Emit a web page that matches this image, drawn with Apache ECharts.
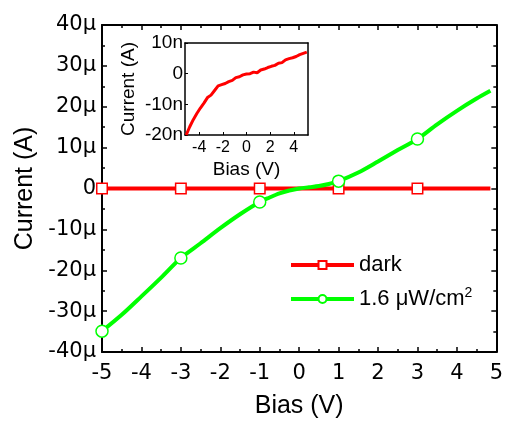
<!DOCTYPE html>
<html><head><meta charset="utf-8">
<script src="https://cdn.jsdelivr.net/npm/echarts@6/dist/echarts.min.js"></script>
<style>html,body{margin:0;padding:0;background:#fff}#c{width:506px;height:424px}</style>
</head><body><div id="c"></div>
<script>
// Main plot: dark current (µA)
const biasDark = [-5, -3, -1, 1, 3, 4.85];
const currentDark = [0, 0, 0, 0, 0, 0];
const darkMarkerBias = [-5, -3, -1, 1, 3];
// Main plot: illuminated 1.6 µW/cm² (µA)
const biasLight = [-5, -4.5, -4, -3.5, -3, -2.5, -2, -1.5, -1, -0.75, -0.5, -0.25, 0, 0.25, 0.5, 0.75, 1, 1.5, 2, 2.5, 3, 3.5, 4, 4.5, 4.85];
const currentLight = [-34.9, -30.9, -26.4, -21.8, -17.0, -13.4, -9.7, -6.3, -3.3, -2.2, -1.2, -0.5, 0, 0.3, 0.6, 1.1, 1.8, 3.9, 6.6, 9.4, 12.1, 15.7, 19.0, 22.0, 23.9];
const lightMarkerBias = [-5, -3, -1, 1, 3];
// Inset: dark current (nA)
const insetBias = [-5.1, -4.8, -4.5, -4.2, -3.9, -3.6, -3.3, -3.0, -2.7, -2.4, -2.1, -1.8, -1.5, -1.2, -0.9, -0.6, -0.3, 0, 0.3, 0.6, 0.9, 1.2, 1.5, 1.8, 2.1, 2.4, 2.7, 3.0, 3.3, 3.6, 3.9, 4.2, 4.5, 4.8, 5.1];
const insetCurrent = [-20, -17.3, -15, -13, -11.2, -9.6, -7.8, -7.0, -5.5, -4.0, -3.6, -3.2, -2.6, -2.2, -1.3, -1.0, -0.4, -0.1, 0, 0.5, 0.3, 1.2, 1.5, 2.0, 2.4, 2.7, 3.4, 3.6, 4.5, 4.9, 5.2, 5.6, 6.2, 6.6, 7.0];
const insetXTicks = [-4, -2, 0, 2, 4];

const FONT = 'Liberation Sans, Arial, sans-serif';
const TICKFONT = 'DejaVu Sans, sans-serif';
const RED = '#ff0000', GREEN = '#00ff00';
const LIGHT_NAME = '1.6 μW/cm²';

function axisBase(extra) {
  return Object.assign({
    type: 'value',
    axisLine: { show: true, onZero: false, lineStyle: { color: '#000', width: 2 } },
    axisTick: { show: true, inside: true, length: 5, lineStyle: { color: '#000', width: 1.5 } },
    splitLine: { show: false },
    nameTextStyle: { color: '#000', fontFamily: FONT },
  }, extra);
}
const mainMinor = { show: true, splitNumber: 2, length: 3, lineStyle: { color: '#000', width: 1.5 } };
const insetLine = { show: true, onZero: false, lineStyle: { color: '#000', width: 1.5 } };

const chart = echarts.init(document.getElementById('c'), null, { renderer: 'canvas' });
chart.setOption({
  animation: false,
  backgroundColor: '#fff',
  grid: [
    { left: 102, right: 7, top: 25, bottom: 68 },
    { left: 185, top: 43, width: 123, height: 92 }
  ],
  legend: {
    data: ['dark', LIGHT_NAME],
    orient: 'vertical',
    left: 284, top: 249,
    itemWidth: 63, itemHeight: 10, itemGap: 10,
    lineStyle: { width: 4 },
    textStyle: { fontFamily: FONT, fontSize: 22, color: '#000',
      rich: { t: { fontFamily: FONT, fontSize: 22, color: '#000' },
              sup: { fontFamily: FONT, fontSize: 14, color: '#000', verticalAlign: 'top', padding: [0, 0, 12, 0] } } },
    formatter: n => n === LIGHT_NAME ? '{t|1.6 μW/cm}{sup|2}' : n
  },
  xAxis: [
    axisBase({ gridIndex: 0, position: 'bottom', min: -5, max: 5, interval: 1, minorTick: mainMinor,
      axisLabel: { color: '#000', fontFamily: TICKFONT, fontSize: 21, margin: 11 },
      name: 'Bias (V)', nameLocation: 'middle', nameGap: 42,
      nameTextStyle: { color: '#000', fontFamily: FONT, fontSize: 25 } }),
    axisBase({ gridIndex: 0, position: 'top', min: -5, max: 5, interval: 1, minorTick: mainMinor,
      axisLabel: { show: false } }),
    axisBase({ gridIndex: 1, position: 'bottom', min: -5.2, max: 5.2,
      axisTick: { show: true, inside: true, length: 3, customValues: insetXTicks, lineStyle: { color: '#000', width: 1 } },
      axisLine: insetLine,
      axisLabel: { color: '#000', fontFamily: FONT, fontSize: 16, margin: 5, customValues: insetXTicks },
      name: 'Bias (V)', nameLocation: 'middle', nameGap: 25,
      nameTextStyle: { color: '#000', fontFamily: FONT, fontSize: 19 } }),
    axisBase({ gridIndex: 1, position: 'top', min: -5.2, max: 5.2,
      axisTick: { show: false }, axisLine: insetLine, axisLabel: { show: false } })
  ],
  yAxis: [
    axisBase({ gridIndex: 0, position: 'left', min: -40, max: 40, interval: 10, minorTick: mainMinor,
      axisLabel: { color: '#000', fontFamily: TICKFONT, fontSize: 21, margin: 6, formatter: v => v === 0 ? '0' : v + 'μ' },
      name: 'Current (A)', nameLocation: 'middle', nameGap: 59,
      nameTextStyle: { color: '#000', fontFamily: FONT, fontSize: 25 } }),
    axisBase({ gridIndex: 0, position: 'right', min: -40, max: 40, interval: 10, minorTick: mainMinor,
      axisLabel: { show: false } }),
    axisBase({ gridIndex: 1, position: 'left', min: -20, max: 10, interval: 10,
      axisTick: { show: true, inside: true, length: 3, lineStyle: { color: '#000', width: 1 } },
      axisLine: insetLine,
      axisLabel: { color: '#000', fontFamily: FONT, fontSize: 19, margin: 2, formatter: v => v === 0 ? '0' : v + 'n' },
      name: 'Current (A)', nameLocation: 'middle', nameGap: 47,
      nameTextStyle: { color: '#000', fontFamily: FONT, fontSize: 19 } }),
    axisBase({ gridIndex: 1, position: 'right', min: -20, max: 10, interval: 10,
      axisTick: { show: false }, axisLine: insetLine, axisLabel: { show: false } })
  ],
  series: [
    {
      name: 'dark', type: 'line', xAxisIndex: 0, yAxisIndex: 0,
      data: biasDark.map((x, i) => ({ value: [x, currentDark[i]], symbol: darkMarkerBias.includes(x) ? 'rect' : 'none' })),
      symbol: 'rect', symbolSize: 10.5, showAllSymbol: true, color: RED,
      itemStyle: { color: '#fff', borderColor: RED, borderWidth: 1.5 },
      lineStyle: { color: RED, width: 4 }, z: 3
    },
    {
      name: LIGHT_NAME, type: 'line', xAxisIndex: 0, yAxisIndex: 0, smooth: 0.3,
      data: biasLight.map((x, i) => ({ value: [x, currentLight[i]], symbol: lightMarkerBias.includes(x) ? 'circle' : 'none' })),
      symbol: 'circle', symbolSize: 12, showAllSymbol: true, color: GREEN,
      itemStyle: { color: '#fff', borderColor: GREEN, borderWidth: 1.5 },
      lineStyle: { color: GREEN, width: 4 }, z: 4
    },
    {
      name: 'inset', type: 'line', xAxisIndex: 2, yAxisIndex: 2,
      data: insetBias.map((x, i) => [x, insetCurrent[i]]),
      symbol: 'none', lineStyle: { color: RED, width: 3 }, z: 5
    }
  ]
});
</script>
</body></html>
